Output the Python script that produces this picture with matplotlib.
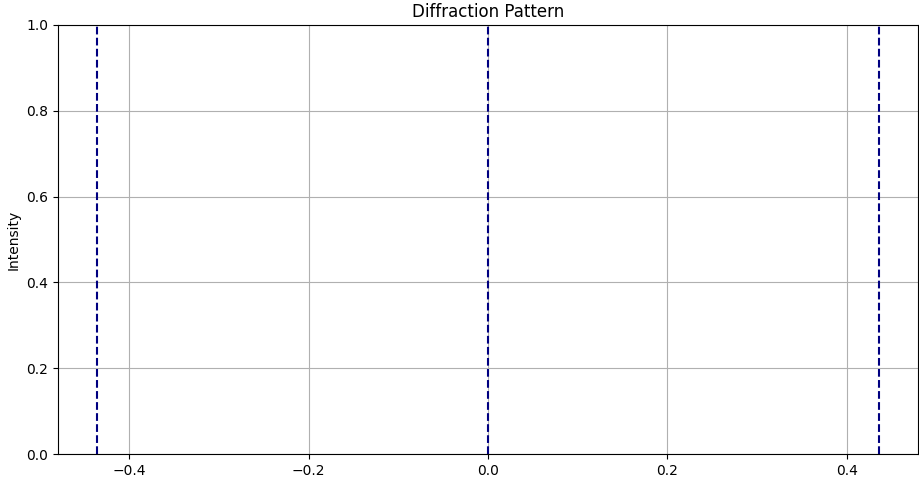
import matplotlib
matplotlib.use("Agg")
import matplotlib.pyplot as plt

peak_positions = [-0.436, 0.0, 0.436]
x_limits = (-0.4796, 0.4796)
y_limits = (0.0, 1.0)
title = "Diffraction Pattern"
ylabel = "Intensity"

fig, ax = plt.subplots(figsize=(9.2, 4.78), dpi=100)
fig.subplots_adjust(left=58/920, right=918/920, top=1-25/478, bottom=1-454/478)
for p in peak_positions:
    ax.axvline(p, color="navy", linestyle="--", linewidth=1.5)
ax.set_xlim(*x_limits)
ax.set_ylim(*y_limits)
ax.set_title(title)
ax.set_ylabel(ylabel)
ax.grid(True)
fig.savefig("out.png", dpi=100)
